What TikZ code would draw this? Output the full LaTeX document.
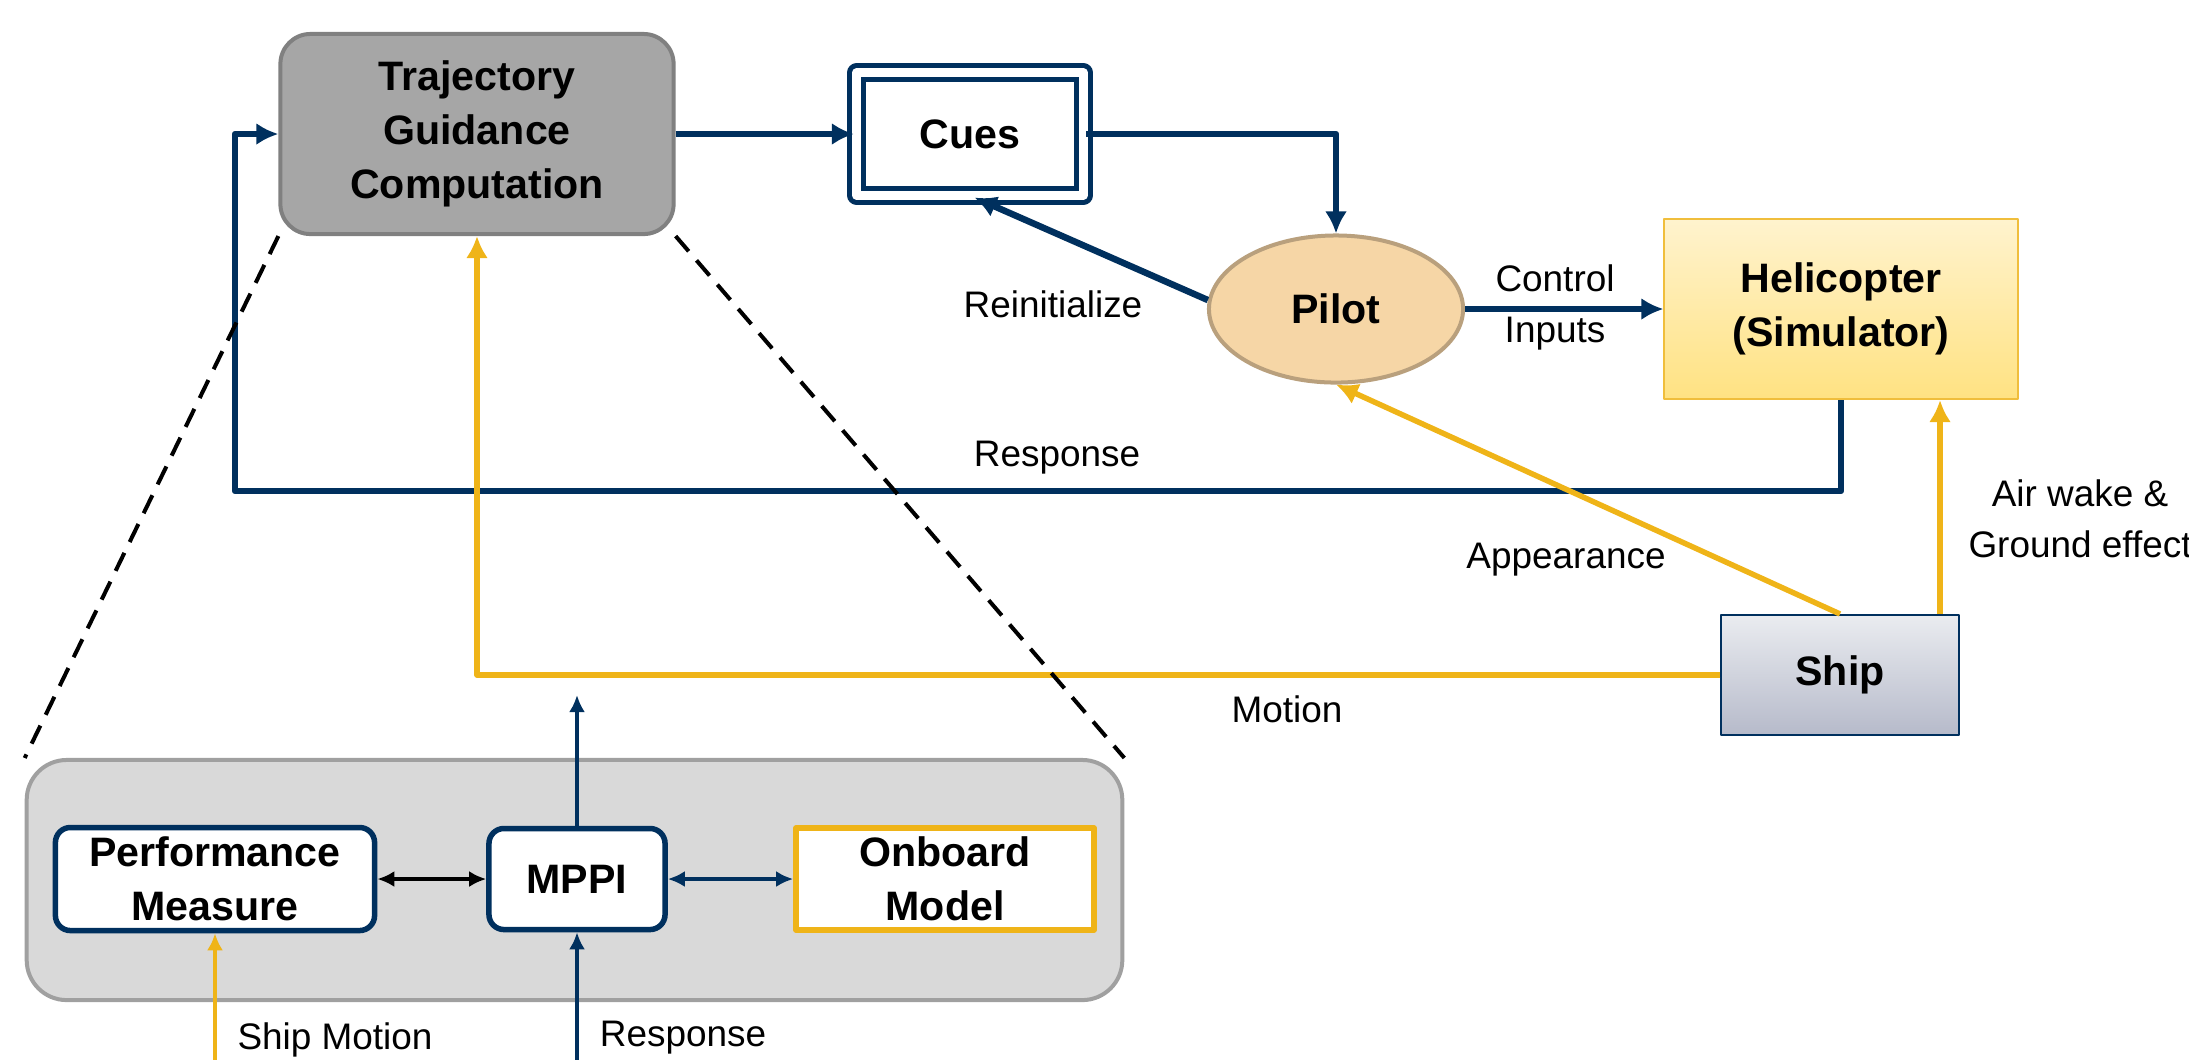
\documentclass[tikz,border=0pt]{standalone}
\usepackage{fontspec}
\setmainfont{Liberation Sans}
\usetikzlibrary{arrows.meta,shapes.geometric}
\definecolor{navy}{RGB}{0,48,94}
\definecolor{gold}{RGB}{239,180,24}
\definecolor{trajfill}{RGB}{166,166,166}
\definecolor{trajedge}{RGB}{128,128,128}
\definecolor{bigfill}{RGB}{217,217,217}
\definecolor{bigedge}{RGB}{160,160,160}
\definecolor{pilotfill}{RGB}{246,214,166}
\definecolor{pilotedge}{RGB}{185,160,125}
\definecolor{helitop}{RGB}{255,243,206}
\definecolor{helibot}{RGB}{255,226,130}
\definecolor{heliedge}{RGB}{240,190,60}
\definecolor{shiptop}{RGB}{234,236,240}
\definecolor{shipbot}{RGB}{182,186,202}
\begin{document}
\begin{tikzpicture}[x=0.01cm,y=-0.01cm,>={Latex[length=0.22cm,width=0.22cm]},line join=round,
  block/.style={font=\fontsize{11.7}{15.4}\selectfont\bfseries,align=center,inner sep=0pt},
  lbl/.style={font=\fontsize{10.5}{14.5}\selectfont,align=center,inner sep=0pt},
  navyline/.style={navy,line width=0.065cm},
  goldline/.style={gold,line width=0.055cm},
  thinline/.style={line width=0.04cm,>={Latex[length=0.17cm,width=0.16cm]}},
  zoomline/.style={line width=0.04cm,dash pattern=on 0.2cm off 0.12cm},
]
\useasboundingbox (0,0) rectangle (2189,1059);
%%
\node (node_traj) at (477,134) [block,draw=trajedge,fill=trajfill,line width=0.04cm,rounded corners=0.3cm,minimum width=3.93cm,minimum height=2.0cm] {Trajectory\\Guidance\\Computation};
  \node (node_cues) at (970,134) [block,draw=navy,double=white,line width=0.05cm,double distance=0.09cm,minimum width=2.27cm,minimum height=1.22cm] {Cues};
  \node (node_pilot) at (1336,309) [block,ellipse,draw=pilotedge,fill=pilotfill,line width=0.04cm,minimum width=2.54cm,minimum height=1.47cm] {Pilot};
  \node (node_heli) at (1841,309) [block,draw=heliedge,top color=helitop,bottom color=helibot,line width=0.02cm,minimum width=3.53cm,minimum height=1.80cm] {Helicopter\\(Simulator)};
  \node (node_ship) at (1840,675) [block,draw=navy,top color=shiptop,bottom color=shipbot,line width=0.02cm,minimum width=2.37cm,minimum height=1.20cm] {Ship};
%
\node (node_big) at (574.5,880) [draw=bigedge,fill=bigfill,line width=0.04cm,rounded corners=0.4cm,minimum width=10.95cm,minimum height=2.40cm] {};
  \node (node_perf) at (215,879) [block,draw=navy,fill=white,line width=0.055cm,rounded corners=0.15cm,minimum width=3.19cm,minimum height=1.03cm] {Performance\\Measure};
  \node (node_mppi) at (577,879) [block,draw=navy,fill=white,line width=0.055cm,rounded corners=0.15cm,minimum width=1.76cm,minimum height=1.01cm] {MPPI};
  \node (node_onboard) at (945,879) [block,draw=gold,fill=white,line width=0.055cm,minimum width=2.98cm,minimum height=1.02cm] {Onboard\\Model};
%
\node (lbl_reinit) at (1053,304) [lbl] {Reinitialize};
  \node (lbl_ctrl) at (1555,307) [lbl] {Control\\Inputs};
  \node (lbl_resp) at (1057,458) [lbl] {Response};
  \node (lbl_app) at (1566,560) [lbl] {Appearance};
  \node (lbl_wake) at (2080,519) [lbl] {Air wake \&\\Ground effect};
  \node (lbl_motion) at (1287,709) [lbl] {Motion};
  \node (lbl_shipmot) at (335,1040) [lbl] {Ship Motion};
  \node (lbl_resp2) at (683,1038) [lbl] {Response};
%
\coordinate (fb_corner) at (235,491);
  \coordinate (wake_x) at (1940,0);
  \coordinate (mppi_out) at (577,695);
  \coordinate (shipmot_in) at (215,1075);
  \coordinate (resp_in) at (577,1075);
%
\draw [navyline,->] (node_traj) -- (node_cues);
  \draw [navyline,->] (node_cues.east) -| (node_pilot.north);
  \draw [navyline,->] (node_pilot.176) -- (node_cues.-86);
  \draw [navyline,->] (node_pilot) -- (node_heli);
  \draw [navyline,->] (node_heli.south) |- (fb_corner) |- (node_traj.west);
  \draw [goldline,->] (node_ship.west) -| (node_traj.south);
  \draw [goldline,->] (node_ship.north) -- (node_pilot.south);
  \draw [goldline,->] (node_ship.north -| wake_x) -- (node_heli.south -| wake_x);
%
\draw [thinline,navy,->] (node_mppi) -- (mppi_out);
  \draw [thinline,line width=0.035cm,<->] (node_perf) -- (node_mppi);
  \draw [thinline,navy,line width=0.035cm,<->] (node_mppi) -- (node_onboard);
  \draw [thinline,gold,->] (shipmot_in) -- (node_perf);
  \draw [thinline,navy,->] (resp_in) -- (node_mppi);
%
\draw [zoomline] (node_traj.south west) -- (node_big.north west);
  \draw [zoomline] (node_traj.south east) -- (node_big.north east);
%
\end{tikzpicture}
\end{document}
